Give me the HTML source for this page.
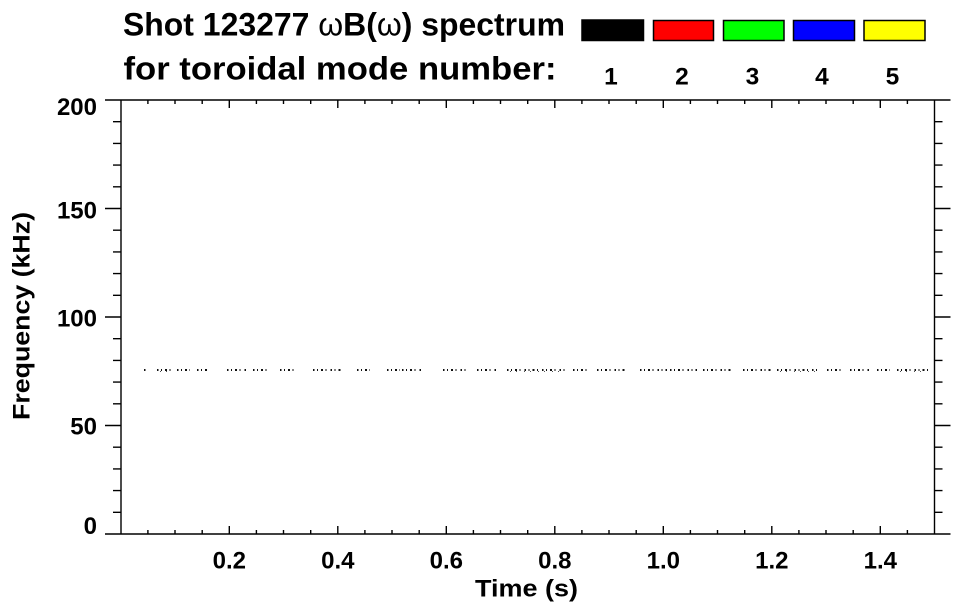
<!DOCTYPE html>
<html>
<head>
<meta charset="utf-8">
<style>
  html, body { margin:0; padding:0; background:#fff; }
  body { width:963px; height:615px; overflow:hidden; }
  svg { display:block; }
  text { font-family: "Liberation Sans", "DejaVu Sans", sans-serif; font-weight:bold; fill:#000; }
</style>
</head>
<body>
<svg width="963" height="615" viewBox="0 0 963 615" xmlns="http://www.w3.org/2000/svg">
  <rect x="0" y="0" width="963" height="615" fill="#fff"/>

  <!-- Title -->
  <text x="123" y="35.7" font-size="32" textLength="442" lengthAdjust="spacingAndGlyphs">Shot 123277 <tspan font-weight="normal">ω</tspan>B(<tspan font-weight="normal">ω</tspan>) spectrum</text>
  <text x="123.5" y="79.5" font-size="32" textLength="433" lengthAdjust="spacingAndGlyphs">for toroidal mode number:</text>

  <!-- Legend boxes -->
  <rect x="582" y="20" width="61.5" height="20.5" fill="#000" stroke="#000" stroke-width="1.5"/>
  <rect x="653.5" y="20.5" width="60" height="20" fill="#ff0000" stroke="#000" stroke-width="1.5"/>
  <rect x="723.5" y="20.5" width="60.5" height="20" fill="#00ff00" stroke="#000" stroke-width="1.5"/>
  <rect x="793.5" y="20.5" width="61" height="20" fill="#0000ff" stroke="#000" stroke-width="1.5"/>
  <rect x="864" y="20.5" width="61" height="20" fill="#ffff00" stroke="#000" stroke-width="1.5"/>

  <g font-size="24.5" text-anchor="middle">
    <text x="611" y="84.3">1</text>
    <text x="682" y="84.3">2</text>
    <text x="752.5" y="84.3">3</text>
    <text x="822" y="84.3">4</text>
    <text x="892.5" y="84.3">5</text>
  </g>

  <!-- Axes box -->
  <g stroke="#000" stroke-width="1.4" fill="none">
    <line x1="121" y1="100" x2="121" y2="534"/>
    <line x1="934.5" y1="100" x2="934.5" y2="534"/>
    <line x1="121" y1="100" x2="934.5" y2="100"/>
    <line x1="121" y1="534" x2="934.5" y2="534"/>

    <path d="M105 100H121 M105 208.5H121 M105 317H121 M105 425.5H121 M105 534H121"/>
    <path d="M934.5 100H950.5 M934.5 208.5H950.5 M934.5 317H950.5 M934.5 425.5H950.5 M934.5 534H950.5"/>
    <path d="M113 121.7H121 M113 143.4H121 M113 165.1H121 M113 186.8H121
             M113 230.2H121 M113 251.9H121 M113 273.6H121 M113 295.3H121
             M113 338.7H121 M113 360.4H121 M113 382.1H121 M113 403.8H121
             M113 447.2H121 M113 468.9H121 M113 490.6H121 M113 512.3H121"/>
    <path d="M934.5 121.7H942.5 M934.5 143.4H942.5 M934.5 165.1H942.5 M934.5 186.8H942.5
             M934.5 230.2H942.5 M934.5 251.9H942.5 M934.5 273.6H942.5 M934.5 295.3H942.5
             M934.5 338.7H942.5 M934.5 360.4H942.5 M934.5 382.1H942.5 M934.5 403.8H942.5
             M934.5 447.2H942.5 M934.5 468.9H942.5 M934.5 490.6H942.5 M934.5 512.3H942.5"/>

    <path d="M229.3 534V526 M337.8 534V526 M446.3 534V526 M554.8 534V526 M663.3 534V526 M771.8 534V526 M880.3 534V526"/>
    <path d="M229.3 100V108 M337.8 100V108 M446.3 100V108 M554.8 100V108 M663.3 100V108 M771.8 100V108 M880.3 100V108"/>
    <path d="M147.9 534V530 M175.0 534V530 M202.2 534V530
             M256.4 534V530 M283.5 534V530 M310.7 534V530
             M364.9 534V530 M392.0 534V530 M419.2 534V530
             M473.4 534V530 M500.5 534V530 M527.7 534V530
             M581.9 534V530 M609.0 534V530 M636.2 534V530
             M690.4 534V530 M717.5 534V530 M744.7 534V530
             M798.9 534V530 M826.0 534V530 M853.2 534V530
             M907.4 534V530"/>
    <path d="M147.9 100V104 M175.0 100V104 M202.2 100V104
             M256.4 100V104 M283.5 100V104 M310.7 100V104
             M364.9 100V104 M392.0 100V104 M419.2 100V104
             M473.4 100V104 M500.5 100V104 M527.7 100V104
             M581.9 100V104 M609.0 100V104 M636.2 100V104
             M690.4 100V104 M717.5 100V104 M744.7 100V104
             M798.9 100V104 M826.0 100V104 M853.2 100V104
             M907.4 100V104"/>
  </g>

  <!-- Y tick labels -->
  <g font-size="24" text-anchor="end">
    <text x="97" y="115">200</text>
    <text x="97" y="218.3">150</text>
    <text x="97" y="326.7">100</text>
    <text x="97" y="434.5">50</text>
    <text x="97" y="534">0</text>
  </g>

  <!-- X tick labels -->
  <g font-size="24" text-anchor="middle">
    <text x="229.3" y="568.3">0.2</text>
    <text x="337.8" y="568.3">0.4</text>
    <text x="446.3" y="568.3">0.6</text>
    <text x="554.8" y="568.3">0.8</text>
    <text x="663.3" y="568.3">1.0</text>
    <text x="771.8" y="568.3">1.2</text>
    <text x="880.3" y="568.3">1.4</text>
  </g>

  <!-- Axis titles -->
  <text x="475" y="596.7" font-size="24.5" textLength="103" lengthAdjust="spacingAndGlyphs">Time (s)</text>
  <text transform="translate(29.5,420) rotate(-90)" x="0" y="0" font-size="24.5" textLength="208" lengthAdjust="spacingAndGlyphs">Frequency (kHz)</text>

  <!-- Data: sparse broken trace near 75 kHz -->
  <g stroke="#111" stroke-width="2" stroke-dasharray="1.5 2.5 1 3 2 2.5 1 4" fill="none">
    <path d="M144 370H147 M157 370H173 M177 370H190 M197 370H208
             M227 370H247 M253 370H267 M280 370H297 M313 370H343
             M357 370H370 M387 370H400 M402 370H423 M443 370H467
             M477 370H497 M507 370H567 M573 370H590 M597 370H627
             M640 370H667 M670 370H697 M703 370H733 M743 370H773
             M777 370H820 M827 370H843 M850 370H870 M877 370H890
             M897 370H930"/>
  </g>
  <g stroke="#555" stroke-width="1" stroke-dasharray="1 5 1 7" fill="none">
    <path d="M160 371.5H172 M510 371.5H566 M780 371.5H818 M900 371.5H928"/>
  </g>
</svg>
</body>
</html>
